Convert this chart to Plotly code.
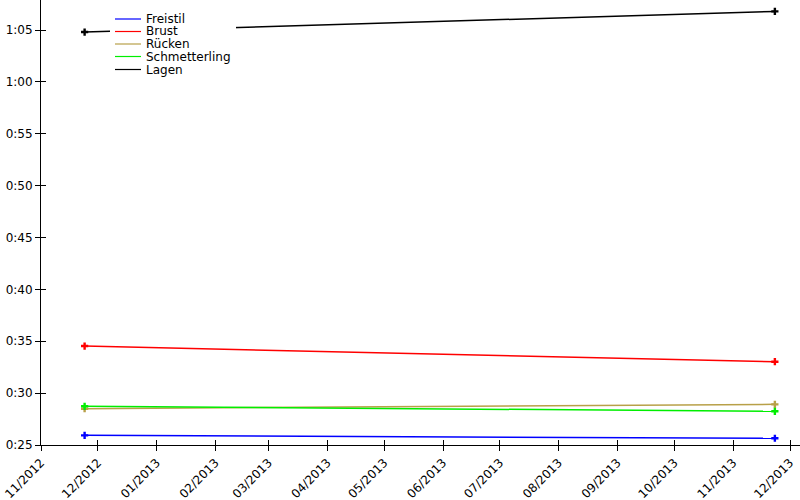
import plotly.graph_objects as go

# ---- data ----
dates = ["2012-11-24", "2013-11-23"]
series_names = ["Freistil", "Brust", "Rücken", "Schmetterling", "Lagen"]
freistil = [25.93, 25.65]
brust = [34.54, 33.03]
ruecken = [28.50, 28.92]
schmetterling = [28.73, 28.25]
lagen = [64.81, 66.80]
colors = ["#0000ff", "#ff0000", "#b8a048", "#00ee00", "#000000"]

y_tickvals = [25, 30, 35, 40, 45, 50, 55, 60, 65]
y_ticktext = ["0:25", "0:30", "0:35", "0:40", "0:45", "0:50", "0:55", "1:00", "1:05"]

x_range = ["2012-11-01", "2013-12-06 06:00"]
y_range = [25, 67.9]

values = [freistil, brust, ruecken, schmetterling, lagen]

fig = go.Figure()
for name, vals, col in zip(series_names, values, colors):
    fig.add_trace(go.Scatter(
        x=dates, y=vals, name=name, mode="lines+markers",
        line=dict(color=col, width=1.5),
        marker=dict(symbol="cross", size=6, color=col),
        showlegend=False,
    ))

# empty trace on overlay axes (for crossing ticks)
fig.add_trace(go.Scatter(x=[], y=[], xaxis="x2", yaxis="y2", showlegend=False))

font = dict(family="DejaVu Sans", size=12, color="#000000")

fig.update_layout(
    width=800, height=500,
    margin=dict(l=41, r=0, t=0, b=55, autoexpand=False),
    paper_bgcolor="white", plot_bgcolor="white",
    font=font,
    xaxis=dict(
        type="date", range=x_range, tick0="2012-11-01", dtick="M1",
        tickformat="%m/%Y", tickangle=-45, showgrid=False, zeroline=False,
        showline=True, linecolor="black", linewidth=1,
        ticks="outside", ticklen=5, tickcolor="black", tickwidth=1,
        tickfont=font, automargin=False,
    ),
    yaxis=dict(
        range=y_range, tickvals=y_tickvals, ticktext=y_ticktext,
        showgrid=False, zeroline=False,
        showline=True, linecolor="black", linewidth=1,
        ticks="outside", ticklen=5, tickcolor="black", tickwidth=1,
        tickfont=font, automargin=False,
    ),
    xaxis2=dict(
        type="date", range=x_range, tick0="2012-11-01", dtick="M1",
        overlaying="x", side="bottom", showticklabels=False, showgrid=False,
        zeroline=False, showline=False, automargin=False,
        ticks="inside", ticklen=5, tickcolor="black", tickwidth=1,
    ),
    yaxis2=dict(
        range=y_range, tickvals=y_tickvals, overlaying="y", side="left",
        anchor="x", showticklabels=False, showgrid=False, zeroline=False,
        showline=False, automargin=False,
        ticks="inside", ticklen=5, tickcolor="black", tickwidth=1,
    ),
)

# ---- custom legend (white box covering lines, short line + label) ----
W, H, L, T = 759.0, 445.0, 41.0, 0.0

def px(x):
    return (x - L) / W

def py(y):
    return (H - y) / H

shapes = [dict(type="rect", xref="paper", yref="paper",
               x0=px(110), x1=px(236), y0=py(78), y1=py(10),
               fillcolor="white", line=dict(width=0), layer="above")]
annotations = []
row_y = [19, 31.5, 44, 56.5, 69.5]
for name, col, ry in zip(series_names, colors, row_y):
    shapes.append(dict(type="line", xref="paper", yref="paper",
                       x0=px(115), x1=px(141), y0=py(ry), y1=py(ry),
                       line=dict(color=col, width=1.2), layer="above"))
    annotations.append(dict(text=name, xref="paper", yref="paper",
                            x=px(145), y=py(ry), xanchor="left", yanchor="middle",
                            showarrow=False, font=font, borderpad=0))

fig.update_layout(shapes=shapes, annotations=annotations)

fig.write_html(
    "out.html",
    config={"displayModeBar": False},
    post_script="document.body.style.margin='0px';document.body.style.padding='0px';",
)
